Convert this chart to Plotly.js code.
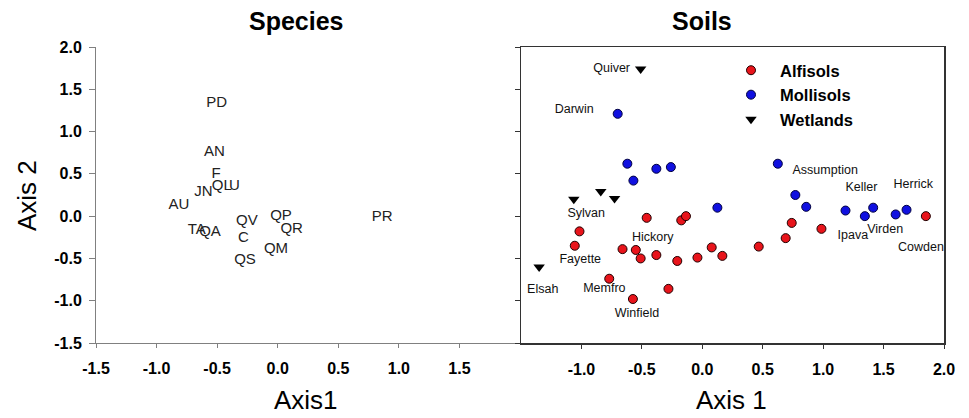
<!DOCTYPE html>
<html>
<head>
<meta charset="utf-8">
<script src="https://cdn.plot.ly/plotly-3.0.1.min.js"></script>
<style>html,body{margin:0;padding:0;background:#fff;}#chart{width:969px;height:418px;}</style>
</head>
<body>
<div id="chart"></div>
<script>
// ---- Species panel (text labels) ----
const speciesNames = ["PD","AN","F","QL","U","JN","AU","TA","QA","QV","C","QS","QP","QR","QM","PR"];
const speciesX = [-0.504,-0.523,-0.509,-0.462,-0.358,-0.614,-0.815,-0.669,-0.559,-0.254,-0.284,-0.270,0.027,0.115,-0.014,0.863];
const speciesY = [1.334,0.755,0.498,0.348,0.348,0.282,0.123,-0.164,-0.191,-0.057,-0.262,-0.519,-0.007,-0.156,-0.389,-0.018];

// ---- Soils panel ----
const alfisolsX = [1.85,-0.46,-0.174,-0.135,-1.016,-1.055,-0.66,-0.55,-0.51,-0.38,-0.207,-0.04,0.078,0.166,0.467,0.69,0.74,0.986,-0.77,-0.28,-0.574];
const alfisolsY = [0.0,-0.02,-0.05,0.0,-0.18,-0.35,-0.39,-0.40,-0.50,-0.46,-0.53,-0.49,-0.37,-0.47,-0.36,-0.26,-0.08,-0.15,-0.74,-0.86,-0.98];
const mollisolsX = [-0.70,-0.62,-0.38,-0.26,-0.57,0.125,0.625,0.77,0.86,1.185,1.345,1.414,1.60,1.69];
const mollisolsY = [1.21,0.62,0.56,0.58,0.42,0.10,0.62,0.25,0.11,0.066,0.0,0.10,0.02,0.075];
const wetlandsX = [-0.51,-1.063,-0.84,-0.726,-1.35];
const wetlandsY = [1.74,0.20,0.29,0.21,-0.60];

const soilLabels = ["Quiver","Darwin","Sylvan","Hickory","Fayette","Elsah","Memfro","Winfield","Assumption","Keller","Herrick","Ipava","Virden","Cowden"];
const soilLabelX = [-0.75,-1.06,-0.96,-0.41,-1.01,-1.32,-0.81,-0.54,1.017,1.317,1.746,1.246,1.513,1.81];
const soilLabelY = [1.74,1.26,0.03,-0.26,-0.52,-0.87,-0.86,-1.155,0.53,0.34,0.37,-0.23,-0.16,-0.37];

const axisTicks = [-1.5,-1.0,-0.5,0.0,0.5,1.0,1.5,2.0];
const leftXTicks = [-1.5,-1.0,-0.5,0.0,0.5,1.0,1.5];
const rightXTicks = [-1.0,-0.5,0.0,0.5,1.0,1.5,2.0];
const fmt = v => v.toFixed(1);

const FONT = "Liberation Sans, Arial, sans-serif";
const W = 969, H = 418;

const traces = [
  {x: speciesX, y: speciesY, text: speciesNames, mode: "text", type: "scatter",
   textposition: "middle center", textfont: {family: FONT, size: 15, color: "#222"},
   xaxis: "x", yaxis: "y", showlegend: false, hoverinfo: "text"},
  {x: alfisolsX, y: alfisolsY, name: "Alfisols", mode: "markers", type: "scatter",
   marker: {symbol: "circle", size: 9, color: "#e8141b", line: {color: "#200000", width: 1}},
   xaxis: "x2", yaxis: "y2"},
  {x: mollisolsX, y: mollisolsY, name: "Mollisols", mode: "markers", type: "scatter",
   marker: {symbol: "circle", size: 9, color: "#1010e0", line: {color: "#000040", width: 1}},
   xaxis: "x2", yaxis: "y2"},
  {x: wetlandsX, y: wetlandsY, name: "Wetlands", mode: "markers", type: "scatter",
   marker: {symbol: "triangle-down", size: 10, color: "#000", line: {width: 0}},
   xaxis: "x2", yaxis: "y2"},
  {x: soilLabelX, y: soilLabelY, text: soilLabels, mode: "text", type: "scatter",
   textposition: "middle center", textfont: {family: FONT, size: 12.5, color: "#111"},
   xaxis: "x2", yaxis: "y2", showlegend: false, hoverinfo: "text"}
];

const tickFont = {family: FONT, size: 16, color: "#000", weight: "bold"};
const yDom = [(H - 343) / H, (H - 47) / H];

const layout = {
  width: W, height: H,
  margin: {l: 0, r: 0, t: 0, b: 0},
  paper_bgcolor: "#fff", plot_bgcolor: "#fff",
  showlegend: true,
  legend: {x: 722 / W, y: 1 - 53 / H, xanchor: "left", yanchor: "top",
           font: {family: FONT, size: 16.5, color: "#000", weight: "bold"},
           itemwidth: 48, bgcolor: "rgba(0,0,0,0)", borderwidth: 0},
  xaxis: {domain: [96 / W, 520 / W], range: [-1.5, 2.0], tickvals: leftXTicks, ticktext: leftXTicks.map(fmt),
          showgrid: false, zeroline: false, showline: true, linecolor: "#808080", linewidth: 1,
          ticks: "outside", ticklen: 4, tickcolor: "#808080", tickfont: tickFont, ticklabelstandoff: 7, anchor: "y"},
  yaxis: {domain: yDom, range: [-1.5, 2.0], tickvals: axisTicks, ticktext: axisTicks.map(fmt),
          showgrid: false, zeroline: false, showline: true, linecolor: "#808080", linewidth: 1,
          ticks: "outside", ticklen: 6, tickcolor: "#808080", tickfont: tickFont, ticklabelstandoff: 4, anchor: "x"},
  xaxis2: {domain: [521 / W, 944 / W], range: [-1.5, 2.0], tickvals: rightXTicks, ticktext: rightXTicks.map(fmt),
           showgrid: false, zeroline: false, showline: true, mirror: true, linecolor: "#333", linewidth: 1.5,
           ticks: "outside", ticklen: 4, tickcolor: "#333", tickfont: tickFont, ticklabelstandoff: 7, anchor: "y2"},
  yaxis2: {domain: yDom, range: [-1.5, 2.0], tickvals: axisTicks, showticklabels: false,
           showgrid: false, zeroline: false, showline: true, mirror: true, linecolor: "#333", linewidth: 1.5,
           ticks: "outside", ticklen: 5, tickcolor: "#333", anchor: "x2"},
  annotations: [
    {text: "Species", xref: "paper", yref: "paper", x: 296 / W, y: 1 - 21 / H, xanchor: "center", yanchor: "middle",
     showarrow: false, font: {family: FONT, size: 25, color: "#000", weight: "bold"}},
    {text: "Soils", xref: "paper", yref: "paper", x: 702 / W, y: 1 - 21 / H, xanchor: "center", yanchor: "middle",
     showarrow: false, font: {family: FONT, size: 25, color: "#000", weight: "bold"}},
    {text: "Axis 2", xref: "paper", yref: "paper", x: 27 / W, y: 1 - 196 / H, xanchor: "center", yanchor: "middle",
     textangle: -90, showarrow: false, font: {family: FONT, size: 26, color: "#000"}},
    {text: "Axis1", xref: "paper", yref: "paper", x: 306 / W, y: 1 - 400 / H, xanchor: "center", yanchor: "middle",
     showarrow: false, font: {family: FONT, size: 26, color: "#000"}},
    {text: "Axis 1", xref: "paper", yref: "paper", x: 731.5 / W, y: 1 - 400 / H, xanchor: "center", yanchor: "middle",
     showarrow: false, font: {family: FONT, size: 26, color: "#000"}}
  ]
};

Plotly.newPlot("chart", traces, layout, {displayModeBar: false, staticPlot: true});
</script>
</body>
</html>
